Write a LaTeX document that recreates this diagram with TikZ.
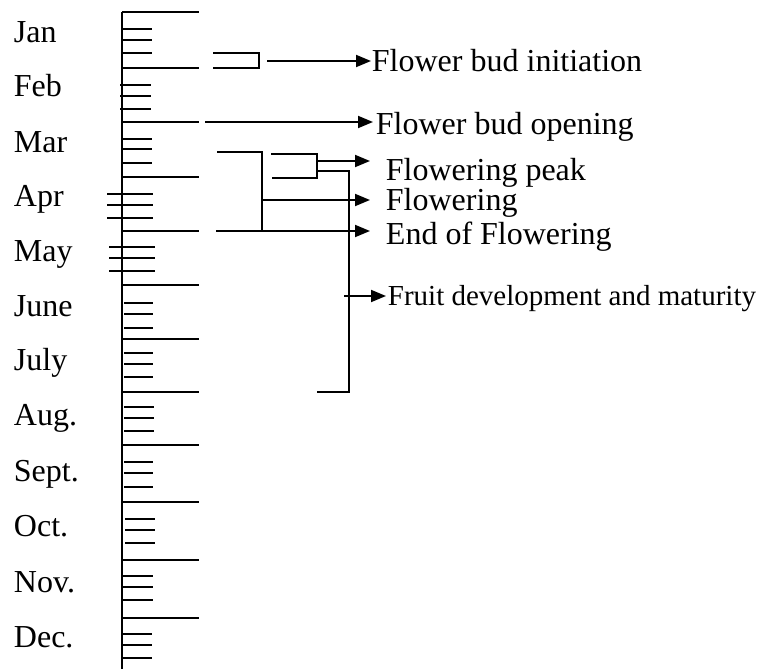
\documentclass[tikz,border=0pt]{standalone}
\usepackage{fontspec}
\setmainfont{Liberation Serif}
\usetikzlibrary{arrows.meta}
\begin{document}
\begin{tikzpicture}[x=1pt,y=-1pt,line width=1.9pt,
  lbl/.style={anchor=base west,inner sep=0pt,font=\fontsize{32}{38}\selectfont},
  smalllbl/.style={lbl,font=\fontsize{29}{34}\selectfont},
  arr/.style={-{Triangle[length=15pt,width=12pt]}},
  tick/.style={line width=1.9pt}]
\useasboundingbox (0,0) rectangle (761,669);
% axis
\draw[tick] (122,12) -- (122,669);
% long ticks (month boundaries)
\foreach \y in {12,68,122,177,231,285,339,392,445,502,560,618}
  \draw[tick] (122,\y) -- (199,\y);
% short ticks
\foreach \a/\b/\c/\xl/\xr in {29/40/53/122/152, 85/96/109/120/151, 139/149/163/122/152,
   194/205/218/107/153, 247/258/271/109/155, 303/314/328/124/153, 353/364/377/124/153,
   407/418/431/124/154, 462/473/487/124/153, 519/530/543/125/155, 576/587/600/123/153,
   634/645/658/122/152}
{
  \draw[tick] (\xl,\a) -- (\xr,\a);
  \draw[tick] (\xl,\b) -- (\xr,\b);
  \draw[tick] (\xl,\c) -- (\xr,\c);
}
% month labels
\foreach \m/\b [count=\i] in {Jan/43,Feb/97,Mar/152,Apr/206,May/261,June/316,July/370,Aug./425,Sept./481,Oct./536,Nov./592,Dec./647}
  \node[lbl] (month\i) at (13,\b) {\m};
% stage labels
\node[lbl] (ini) at (371,72) {Flower bud initiation};
\node[lbl] (opn) at (375,134) {Flower bud opening};
\node[lbl] (peak) at (385,180) {Flowering peak};
\node[lbl] (flw) at (385,210) {Flowering};
\node[lbl] (endf) at (385,244) {End of Flowering};
\node[smalllbl] (fruit) at (387,305) {Fruit development and maturity};
% connector coordinates
\coordinate (iniA) at (213,53);
\coordinate (iniB) at (213,68);
\coordinate (iniJ) at (259,53);
\coordinate (iniK) at (259,68);
\coordinate (iniS) at (267,61);
\coordinate (iniT) at (371,61);
\coordinate (opnS) at (205,122);
\coordinate (opnT) at (373,122);
\coordinate (flA) at (217,152);
\coordinate (flJ) at (262,152);
\coordinate (flK) at (262,231);
\coordinate (flB) at (216,231);
\coordinate (flM) at (262,200);
\coordinate (flT) at (370,200);
\coordinate (endT) at (370,231);
\coordinate (pkA) at (271,154);
\coordinate (pkB) at (272,178);
\coordinate (pkJ) at (317,154);
\coordinate (pkK) at (317,178);
\coordinate (pkM) at (317,161);
\coordinate (pkT) at (370,161);
\coordinate (frS) at (317,171);
\coordinate (frJ) at (349,171);
\coordinate (frK) at (349,392);
\coordinate (frE) at (317,392);
\coordinate (frM) at (344,296);
\coordinate (frT) at (386,296);
% flower bud initiation bracket
\draw (iniA) -- (iniJ) -- (iniK) -- (iniB);
\draw[arr] (iniS) -- (iniT);
% flower bud opening
\draw[arr] (opnS) -- (opnT);
% flowering bracket
\draw (flA) -- (flJ) -- (flK);
\draw[arr] (flB) -- (endT);
\draw[arr] (flM) -- (flT);
% flowering peak bracket
\draw (pkA) -- (pkJ) -- (pkK) -- (pkB);
\draw[arr] (pkM) -- (pkT);
% fruit development bracket
\draw (frS) -- (frJ) -- (frK) -- (frE);
\draw[arr] (frM) -- (frT);
\end{tikzpicture}
\end{document}
